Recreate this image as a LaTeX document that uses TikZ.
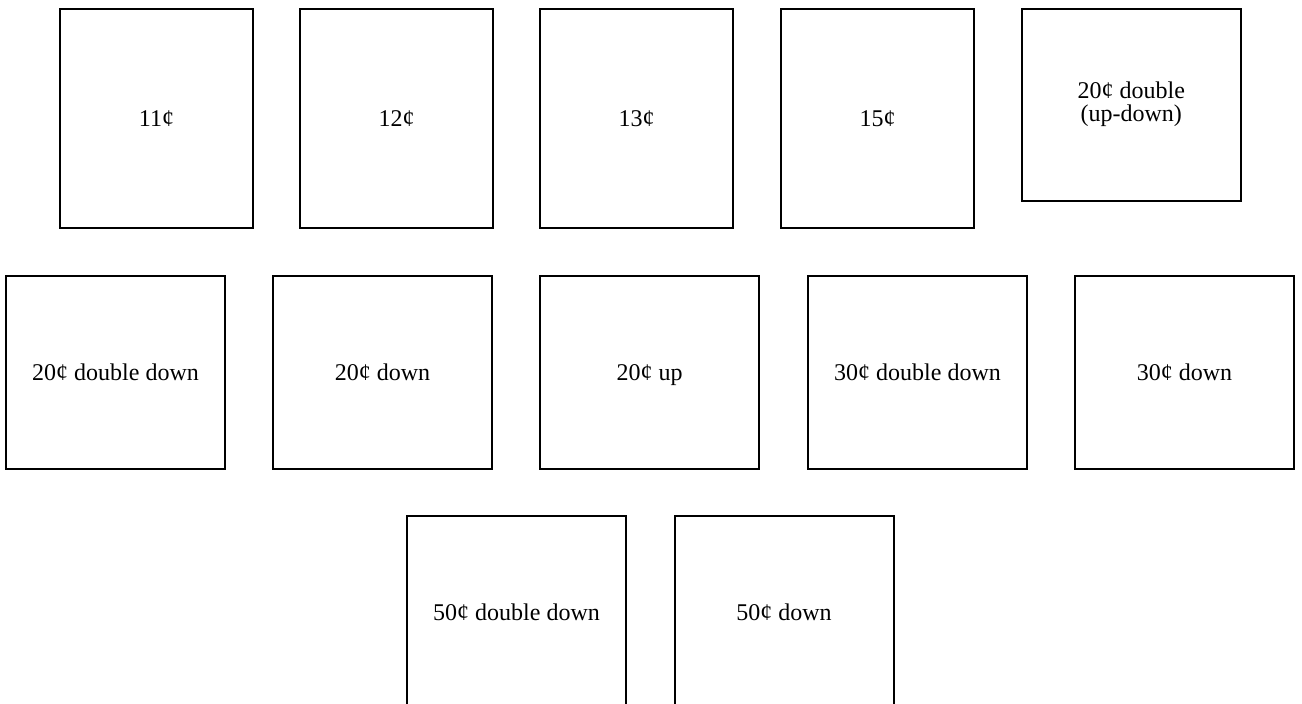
\documentclass[tikz,border=0pt]{standalone}
\usepackage{fontspec}
\setmainfont{Liberation Serif}
\tikzset{
  box/.style={draw=black, line width=2pt, rectangle, inner sep=0pt, fill=white,
    font=\fontsize{24}{24}\selectfont},
  oneline/.style={box, text height=16.2pt, text depth=0pt},
  tall/.style={oneline, minimum width=193pt, minimum height=219pt},
  wide/.style={oneline, minimum width=219pt, minimum height=193pt}
}
\begin{document}
\begin{tikzpicture}[x=1pt,y=-1pt]
\useasboundingbox (0,0) rectangle (1302,704);
\fill[white] (0,0) rectangle (1302,704);
\clip (0,0) rectangle (1302,704);
% row 1
\node[tall] (b1) at (156.5,118.5) {11¢};
\node[tall] (b2) at (396.5,118.5) {12¢};
\node[tall] (b3) at (636.5,118.5) {13¢};
\node[tall] (b4) at (877.5,118.5) {15¢};
\node[box, minimum width=219.5pt, minimum height=192pt] (b5) at (1131.3,105)
  {\begin{tabular}{@{}c@{}}20¢ double\\[-1pt](up-down)\end{tabular}};
% row 2
\node[wide] (b6) at (115.5,372.5) {20¢ double down};
\node[wide] (b7) at (382.5,372.5) {20¢ down};
\node[wide] (b8) at (649.5,372.5) {20¢ up};
\node[wide] (b9) at (917.5,372.5) {30¢ double down};
\node[wide] (b10) at (1184.5,372.5) {30¢ down};
% row 3 (cut off at the bottom)
\node[wide] (b11) at (516.5,612.5) {50¢ double down};
\node[wide] (b12) at (784,612.5) {50¢ down};
\end{tikzpicture}
\end{document}
